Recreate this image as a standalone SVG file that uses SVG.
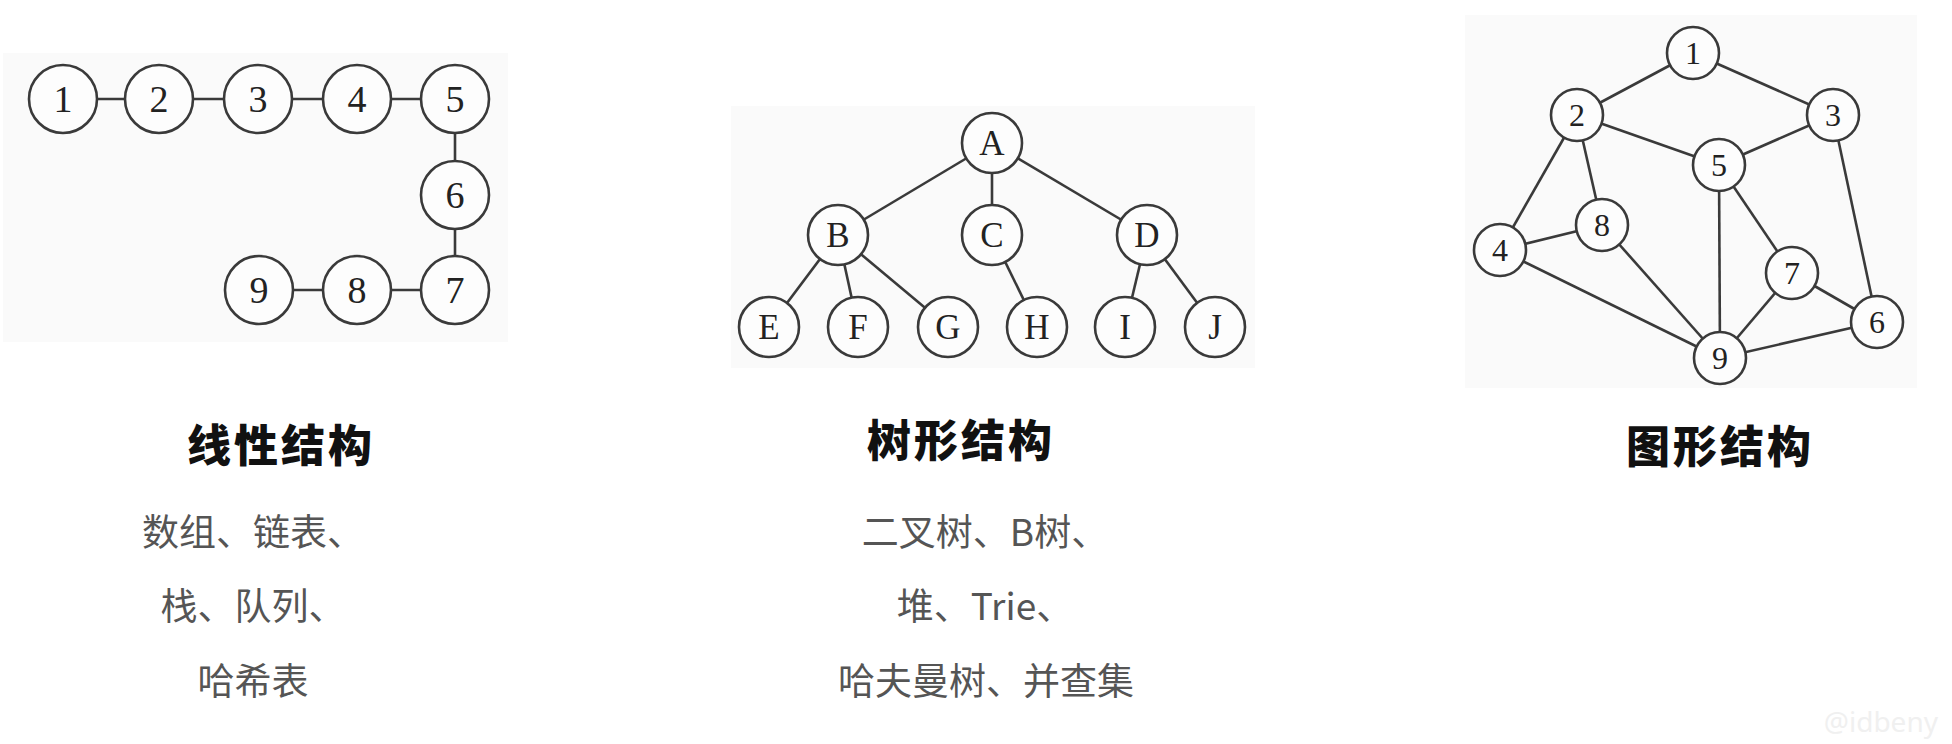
<svg xmlns="http://www.w3.org/2000/svg" width="1952" height="744" viewBox="0 0 1952 744">
<style>
.bg{fill:#fafafa}
.e{stroke:#3a3a3a;stroke-width:2.6;fill:none}
.n circle{fill:#fdfdfd;stroke:#3a3a3a;stroke-width:2.6}
.n text{font-family:"Liberation Serif","Times New Roman",serif;fill:#222;text-anchor:middle;dominant-baseline:central}
.lin text{font-size:38px}
.tre text{font-size:35px}
.gra text{font-size:32px}
.title{font-family:"Noto Sans CJK SC","Noto Sans CJK TC",sans-serif;font-weight:900;font-size:44px;fill:#111;text-anchor:middle;letter-spacing:3px}
.desc{font-family:"Noto Sans CJK SC","Noto Sans CJK TC",sans-serif;font-size:37px;fill:#555;text-anchor:middle}
.wm{font-family:"Noto Sans","Liberation Sans",sans-serif;font-size:28px;fill:#f0f0f0;text-anchor:end}
</style>
<rect width="1952" height="744" fill="#fff"/>
<rect class="bg" x="3" y="53" width="505" height="289"/>
<rect class="bg" x="731" y="106" width="524" height="262"/>
<rect class="bg" x="1465" y="15" width="452" height="373"/>

<g id="connectors">
  <g id="linear-edges">
    <line class="e" x1="63" y1="99" x2="159" y2="99"/>
    <line class="e" x1="159" y1="99" x2="258" y2="99"/>
    <line class="e" x1="258" y1="99" x2="357" y2="99"/>
    <line class="e" x1="357" y1="99" x2="455" y2="99"/>
    <line class="e" x1="455" y1="99" x2="455" y2="195"/>
    <line class="e" x1="455" y1="195" x2="455" y2="290"/>
    <line class="e" x1="455" y1="290" x2="357" y2="290"/>
    <line class="e" x1="357" y1="290" x2="259" y2="290"/>
  </g>
  <g id="tree-edges">
    <line class="e" x1="992" y1="143" x2="838" y2="235"/>
    <line class="e" x1="992" y1="143" x2="992" y2="235"/>
    <line class="e" x1="992" y1="143" x2="1147" y2="235"/>
    <line class="e" x1="838" y1="235" x2="769" y2="327"/>
    <line class="e" x1="838" y1="235" x2="858" y2="327"/>
    <line class="e" x1="838" y1="235" x2="948" y2="327"/>
    <line class="e" x1="992" y1="235" x2="1037" y2="327"/>
    <line class="e" x1="1147" y1="235" x2="1125" y2="327"/>
    <line class="e" x1="1147" y1="235" x2="1215" y2="327"/>
  </g>
  <g id="graph-edges">
    <line class="e" x1="1693" y1="53" x2="1577" y2="115"/>
    <line class="e" x1="1693" y1="53" x2="1833" y2="115"/>
    <line class="e" x1="1577" y1="115" x2="1719" y2="165"/>
    <line class="e" x1="1833" y1="115" x2="1719" y2="165"/>
    <line class="e" x1="1577" y1="115" x2="1500" y2="250"/>
    <line class="e" x1="1577" y1="115" x2="1602" y2="225"/>
    <line class="e" x1="1500" y1="250" x2="1602" y2="225"/>
    <line class="e" x1="1500" y1="250" x2="1720" y2="358"/>
    <line class="e" x1="1602" y1="225" x2="1720" y2="358"/>
    <line class="e" x1="1719" y1="165" x2="1720" y2="358"/>
    <line class="e" x1="1719" y1="165" x2="1792" y2="273"/>
    <line class="e" x1="1833" y1="115" x2="1877" y2="322"/>
    <line class="e" x1="1792" y1="273" x2="1877" y2="322"/>
    <line class="e" x1="1792" y1="273" x2="1720" y2="358"/>
    <line class="e" x1="1720" y1="358" x2="1877" y2="322"/>
  </g>
</g>

<g id="linear" class="lin">
  <g id="l1" class="n"><circle cx="63" cy="99" r="34"/><text x="63" y="99">1</text></g>
  <g id="l2" class="n"><circle cx="159" cy="99" r="34"/><text x="159" y="99">2</text></g>
  <g id="l3" class="n"><circle cx="258" cy="99" r="34"/><text x="258" y="99">3</text></g>
  <g id="l4" class="n"><circle cx="357" cy="99" r="34"/><text x="357" y="99">4</text></g>
  <g id="l5" class="n"><circle cx="455" cy="99" r="34"/><text x="455" y="99">5</text></g>
  <g id="l6" class="n"><circle cx="455" cy="195" r="34"/><text x="455" y="195">6</text></g>
  <g id="l7" class="n"><circle cx="455" cy="290" r="34"/><text x="455" y="290">7</text></g>
  <g id="l8" class="n"><circle cx="357" cy="290" r="34"/><text x="357" y="290">8</text></g>
  <g id="l9" class="n"><circle cx="259" cy="290" r="34"/><text x="259" y="290">9</text></g>
</g>

<g id="tree" class="tre">
  <g id="tA" class="n"><circle cx="992" cy="143" r="30"/><text x="992" y="143">A</text></g>
  <g id="tB" class="n"><circle cx="838" cy="235" r="30"/><text x="838" y="235">B</text></g>
  <g id="tC" class="n"><circle cx="992" cy="235" r="30"/><text x="992" y="235">C</text></g>
  <g id="tD" class="n"><circle cx="1147" cy="235" r="30"/><text x="1147" y="235">D</text></g>
  <g id="tE" class="n"><circle cx="769" cy="327" r="30"/><text x="769" y="327">E</text></g>
  <g id="tF" class="n"><circle cx="858" cy="327" r="30"/><text x="858" y="327">F</text></g>
  <g id="tG" class="n"><circle cx="948" cy="327" r="30"/><text x="948" y="327">G</text></g>
  <g id="tH" class="n"><circle cx="1037" cy="327" r="30"/><text x="1037" y="327">H</text></g>
  <g id="tI" class="n"><circle cx="1125" cy="327" r="30"/><text x="1125" y="327">I</text></g>
  <g id="tJ" class="n"><circle cx="1215" cy="327" r="30"/><text x="1215" y="327">J</text></g>
</g>

<g id="graph" class="gra">
  <g id="g1" class="n"><circle cx="1693" cy="53" r="26"/><text x="1693" y="53">1</text></g>
  <g id="g2" class="n"><circle cx="1577" cy="115" r="26"/><text x="1577" y="115">2</text></g>
  <g id="g3" class="n"><circle cx="1833" cy="115" r="26"/><text x="1833" y="115">3</text></g>
  <g id="g5" class="n"><circle cx="1719" cy="165" r="26"/><text x="1719" y="165">5</text></g>
  <g id="g8" class="n"><circle cx="1602" cy="225" r="26"/><text x="1602" y="225">8</text></g>
  <g id="g4" class="n"><circle cx="1500" cy="250" r="26"/><text x="1500" y="250">4</text></g>
  <g id="g7" class="n"><circle cx="1792" cy="273" r="26"/><text x="1792" y="273">7</text></g>
  <g id="g6" class="n"><circle cx="1877" cy="322" r="26"/><text x="1877" y="322">6</text></g>
  <g id="g9" class="n"><circle cx="1720" cy="358" r="26"/><text x="1720" y="358">9</text></g>
</g>

<g id="labels-linear">
  <text class="title" x="281" y="462">线性结构</text>
  <text class="desc" x="253" y="546">数组、链表、</text>
  <text class="desc" x="253" y="620">栈、队列、</text>
  <text class="desc" x="253" y="695">哈希表</text>
</g>
<g id="labels-tree">
  <text class="title" x="961" y="457">树形结构</text>
  <text class="desc" x="985" y="546">二叉树、B树、</text>
  <text class="desc" x="985" y="620">堆、Trie、</text>
  <text class="desc" x="986" y="695">哈夫曼树、并查集</text>
</g>
<g id="labels-graph">
  <text class="title" x="1720" y="463">图形结构</text>
</g>
<text class="wm" x="1938" y="732">@idbeny</text>
</svg>
